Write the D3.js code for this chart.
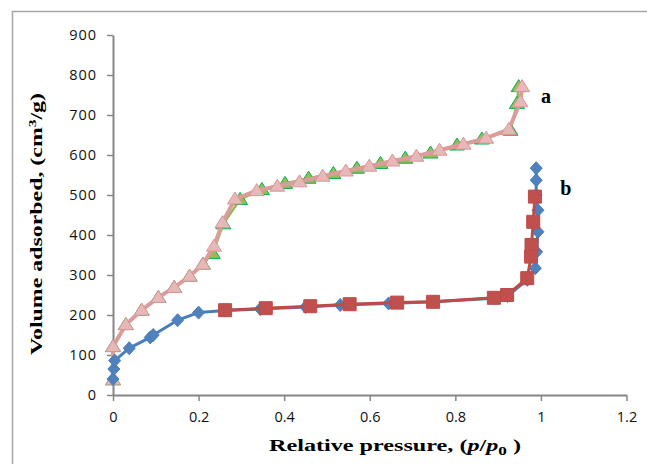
<!DOCTYPE html>
<html>
<head>
<meta charset="utf-8">
<script src="https://cdn.jsdelivr.net/npm/d3@7"></script>
<style>
  body { margin: 0; background: #fff; }
  .tick-label { font-family: "Open Sans", sans-serif; font-size: 14.5px; fill: #111; }
  .axis-title { font-family: "Liberation Serif", serif; font-weight: bold; font-size: 17px; fill: #000; }
</style>
</head>
<body>
<div id="chart"></div>
<script>
// Sample a: adsorption (green) and desorption (pink) branches, [p/p0, volume]
const adsA = [[0,38],[0,121],[0.03,176],[0.067,212],[0.106,244],[0.143,269],[0.179,297],[0.21,327],
  [0.233,354],[0.258,428],[0.297,489],[0.348,514],[0.402,529],[0.457,542],[0.515,554],[0.57,567],
  [0.625,579],[0.683,592],[0.742,605],[0.804,625],[0.862,640],[0.929,662],[0.944,729],[0.948,771]];
const desA = [[0.956,771],[0.952,733],[0.925,664],[0.872,642],[0.819,627],[0.763,612],[0.709,597],
  [0.653,585],[0.599,572],[0.544,560],[0.49,547],[0.436,533],[0.384,522],[0.336,511],[0.285,490],
  [0.256,431],[0.236,372],[0.21,327],[0.179,297],[0.143,269],[0.106,244],[0.067,212],[0.03,176],
  [0,121],[0,38]];
// Sample b: adsorption (blue) and desorption (red)
const adsB = [[0,40],[0.002,65],[0.004,86],[0.038,117],[0.087,144],[0.094,150],[0.151,187],[0.2,206],
  [0.262,211],[0.344,215],[0.45,220],[0.531,225],[0.644,229],[0.75,233],[0.89,242],[0.922,247],
  [0.968,288],[0.987,317],[0.99,358],[0.993,408],[0.993,462],[0.989,500],[0.989,537],[0.989,567]];
const desB = [[0.986,496],[0.982,433],[0.978,375],[0.977,346],[0.968,292],[0.921,250],[0.89,243],
  [0.748,233],[0.664,231],[0.553,227],[0.461,222],[0.357,217],[0.262,212]];

const xTicks = [0, 0.2, 0.4, 0.6, 0.8, 1, 1.2];
const yTicks = [0, 100, 200, 300, 400, 500, 600, 700, 800, 900];
const curveLabels = [{text: "a", p: 1.0, v: 730}, {text: "b", p: 1.045, v: 500}];

const width = 647, height = 464;

const svg = d3.select("#chart")
  .append("svg")
  .attr("width", width)
  .attr("height", height);

// outer chart frame
svg.append("rect")
  .attr("x", 12.5).attr("y", 11.5)
  .attr("width", 700).attr("height", 500)
  .attr("fill", "none")
  .attr("stroke", "#a6a6a6")
  .attr("stroke-width", 1.5);

const xScale = d3.scaleLinear().domain([0, 1.2]).range([113, 626.5]);
const yScale = d3.scaleLinear().domain([0, 900]).range([395, 35]);

/************/
/* Add axes */
/************/
const xAxis = svg.append("g")
  .attr("transform", `translate(0,${yScale(0)})`)
  .call(d3.axisBottom(xScale).tickValues(xTicks).tickSize(6).tickSizeOuter(0)
    .tickFormat(d => d3.format("")(d)));
const yAxis = svg.append("g")
  .attr("transform", `translate(${xScale(0)},0)`)
  .call(d3.axisLeft(yScale).tickValues(yTicks).tickSize(6).tickSizeOuter(0));

[xAxis, yAxis].forEach(g => {
  g.attr("font-size", null).attr("font-family", null);
  g.select(".domain").attr("stroke", "#868686").attr("stroke-width", 2);
  g.selectAll(".tick line").attr("stroke", "#868686").attr("stroke-width", 1.5);
  g.selectAll(".tick text").attr("class", "tick-label").attr("fill", null);
});
xAxis.selectAll(".tick text").attr("y", 17);
yAxis.selectAll(".tick text").attr("x", -16).attr("letter-spacing", 1);

/*********************/
/* Lines and markers */
/*********************/
const line = d3.line().x(d => xScale(d[0])).y(d => yScale(d[1]));

const triangle = "M0,-7L7.5,5L-7.5,5Z";
const diamond = "M0,-6.5L6,0L0,6.5L-6,0Z";
const square = "M-6.5,-6.5H6.5V6.5H-6.5Z";

const series = [
  {data: adsA, line: "#8cbc5a", lw: 2.5, shape: triangle, fill: "#9bbb59", stroke: "#00b050"},
  {data: desA, line: "#dc9c9a", lw: 4, shape: triangle, fill: "#e6b9b8", stroke: "#d99694"},
  {data: adsB, line: "#4a7ebb", lw: 3, shape: diamond, fill: "#4f81bd", stroke: "#4a7ebb"},
  {data: desB, line: "#be4b48", lw: 3, shape: square, fill: "#c0504d", stroke: "#be4b48"}
];

series.forEach(s => {
  svg.append("path")
    .datum(s.data)
    .attr("d", line)
    .attr("fill", "none")
    .attr("stroke", s.line)
    .attr("stroke-width", s.lw)
    .attr("stroke-linejoin", "round");
  svg.append("g")
    .selectAll("path")
    .data(s.data)
    .join("path")
      .attr("d", s.shape)
      .attr("transform", d => `translate(${xScale(d[0])},${yScale(d[1])})`)
      .attr("fill", s.fill)
      .attr("stroke", s.stroke)
      .attr("stroke-width", 1);
});

// curve labels
svg.selectAll(".curve-label")
  .data(curveLabels)
  .join("text")
    .attr("class", "axis-title")
    .attr("x", d => xScale(d.p))
    .attr("y", d => yScale(d.v))
    .style("font-size", "20px")
    .text(d => d.text);

// axis titles
const xTitle = svg.append("text")
  .attr("class", "axis-title")
  .attr("x", 395).attr("y", 451)
  .attr("text-anchor", "middle")
  .attr("textLength", 252)
  .attr("lengthAdjust", "spacingAndGlyphs");
xTitle.append("tspan").text("Relative pressure, (");
xTitle.append("tspan").attr("font-style", "italic").text("p");
xTitle.append("tspan").text("/");
xTitle.append("tspan").attr("font-style", "italic").text("p");
xTitle.append("tspan").style("font-size", "12px").attr("dy", 4).text("0");
xTitle.append("tspan").attr("dy", -4).text(" )");

const yTitle = svg.append("text")
  .attr("class", "axis-title")
  .attr("transform", "translate(42,224) rotate(-90)")
  .attr("text-anchor", "middle")
  .attr("textLength", 262)
  .attr("lengthAdjust", "spacingAndGlyphs");
yTitle.append("tspan").text("Volume adsorbed, (cm");
yTitle.append("tspan").style("font-size", "11px").attr("dy", -6).text("3");
yTitle.append("tspan").attr("dy", 6).text("/g)");
</script>
</body>
</html>
